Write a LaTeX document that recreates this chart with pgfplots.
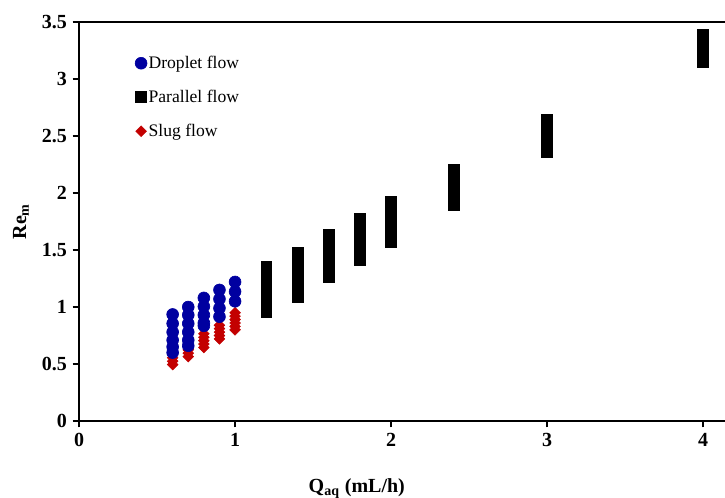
\documentclass[border=0pt]{standalone}
\usepackage{fontspec}
\setmainfont{Liberation Serif}
\usepackage{pgfplots}
\usepackage{pgfplotstable}
\pgfplotsset{compat=1.18}

\definecolor{dropblue}{RGB}{0,0,160}
\definecolor{slugred}{RGB}{195,0,0}

% Mixture Reynolds number against aqueous flow rate, one table per regime
\pgfplotstableread{
x y
0.6 0.935
0.6 0.855
0.6 0.780
0.6 0.710
0.6 0.650
0.6 0.600
0.7 1.000
0.7 0.930
0.7 0.855
0.7 0.780
0.7 0.710
0.7 0.660
0.8 1.080
0.8 1.005
0.8 0.930
0.8 0.860
0.8 0.835
0.9 1.150
0.9 1.070
0.9 0.990
0.9 0.915
1.0 1.220
1.0 1.135
1.0 1.050
}\droplet

\pgfplotstableread{
x y
0.6 0.495
0.6 0.525
0.6 0.555
0.7 0.565
0.7 0.595
0.7 0.625
0.8 0.645
0.8 0.675
0.8 0.705
0.8 0.735
0.8 0.765
0.9 0.720
0.9 0.750
0.9 0.780
0.9 0.810
0.9 0.840
1.0 0.800
1.0 0.830
1.0 0.860
1.0 0.890
1.0 0.920
1.0 0.950
}\slug

\pgfplotstableread{
x y
1.2 0.955
1.2 1.010
1.2 1.070
1.2 1.125
1.2 1.180
1.2 1.240
1.2 1.295
1.2 1.350
1.4 1.085
1.4 1.140
1.4 1.195
1.4 1.250
1.4 1.310
1.4 1.365
1.4 1.420
1.4 1.475
1.6 1.265
1.6 1.320
1.6 1.370
1.6 1.420
1.6 1.475
1.6 1.525
1.6 1.580
1.6 1.630
1.8 1.415
1.8 1.465
1.8 1.515
1.8 1.565
1.8 1.620
1.8 1.670
1.8 1.720
1.8 1.770
2.0 1.570
2.0 1.620
2.0 1.670
2.0 1.720
2.0 1.770
2.0 1.820
2.0 1.870
2.0 1.920
2.4 1.895
2.4 1.950
2.4 2.000
2.4 2.050
2.4 2.100
2.4 2.155
2.4 2.205
3.0 2.365
3.0 2.420
3.0 2.470
3.0 2.520
3.0 2.575
3.0 2.640
4.0 3.150
4.0 3.200
4.0 3.250
4.0 3.300
4.0 3.345
4.0 3.390
}\parallel

\begin{document}
\begin{tikzpicture}
\begin{axis}[
  scale only axis,
  width=403.75pt, height=249.4pt,
  xmin=0, xmax=4.14, ymin=0, ymax=3.5,
  axis x line=box, axis y line=left,
  y axis line style={-},
  axis line style={line width=1.3pt, black},
  xtick={0,1,2,3,4},
  ytick={0,0.5,1,1.5,2,2.5,3,3.5},
  xtick pos=bottom, ytick pos=left,
  tick align=outside,
  major tick length=4pt,
  tick style={line width=1pt, black},
  /pgf/number format/assume math mode=true,
  tick label style={font=\fontsize{12.5}{14}\selectfont\bfseries},
  xlabel={Q\textsubscript{aq} (mL/h)},
  ylabel={Re\textsubscript{m}},
  label style={font=\fontsize{12.5}{14}\selectfont\bfseries},
  xlabel style={at={(axis description cs:0.43,-0.17)}, anchor=center},
  ylabel style={at={(axis description cs:-0.09,0.5)}, anchor=center},
  clip=false,
  reverse legend,
  legend style={draw=none, fill=none, at={(0.079,0.928)}, anchor=north west,
    font=\fontsize{11}{13}\selectfont, row sep=10pt,
    nodes={inner sep=1pt}},
  legend cell align=left,
]
\addplot[only marks, mark=square*, mark size=2.35pt,
  mark options={rotate=45, fill=slugred, draw=slugred}] table {\slug};
\addlegendentry{Slug flow}
\addplot[only marks, mark=square*, mark size=3.4pt,
  mark options={fill=black, draw=black}] table {\parallel};
\addlegendentry{Parallel flow}
\addplot[only marks, mark=*, mark size=3.7pt,
  mark options={fill=dropblue, draw=dropblue}] table {\droplet};
\addlegendentry{Droplet flow}
\coordinate (bl) at (rel axis cs:0,0);
\coordinate (tr) at (rel axis cs:1,1);
\end{axis}
\pgfresetboundingbox
\path[use as bounding box] ([xshift=-49.4pt,yshift=-48.1pt]bl) rectangle ([yshift=13.75pt]tr);
\end{tikzpicture}
\end{document}
